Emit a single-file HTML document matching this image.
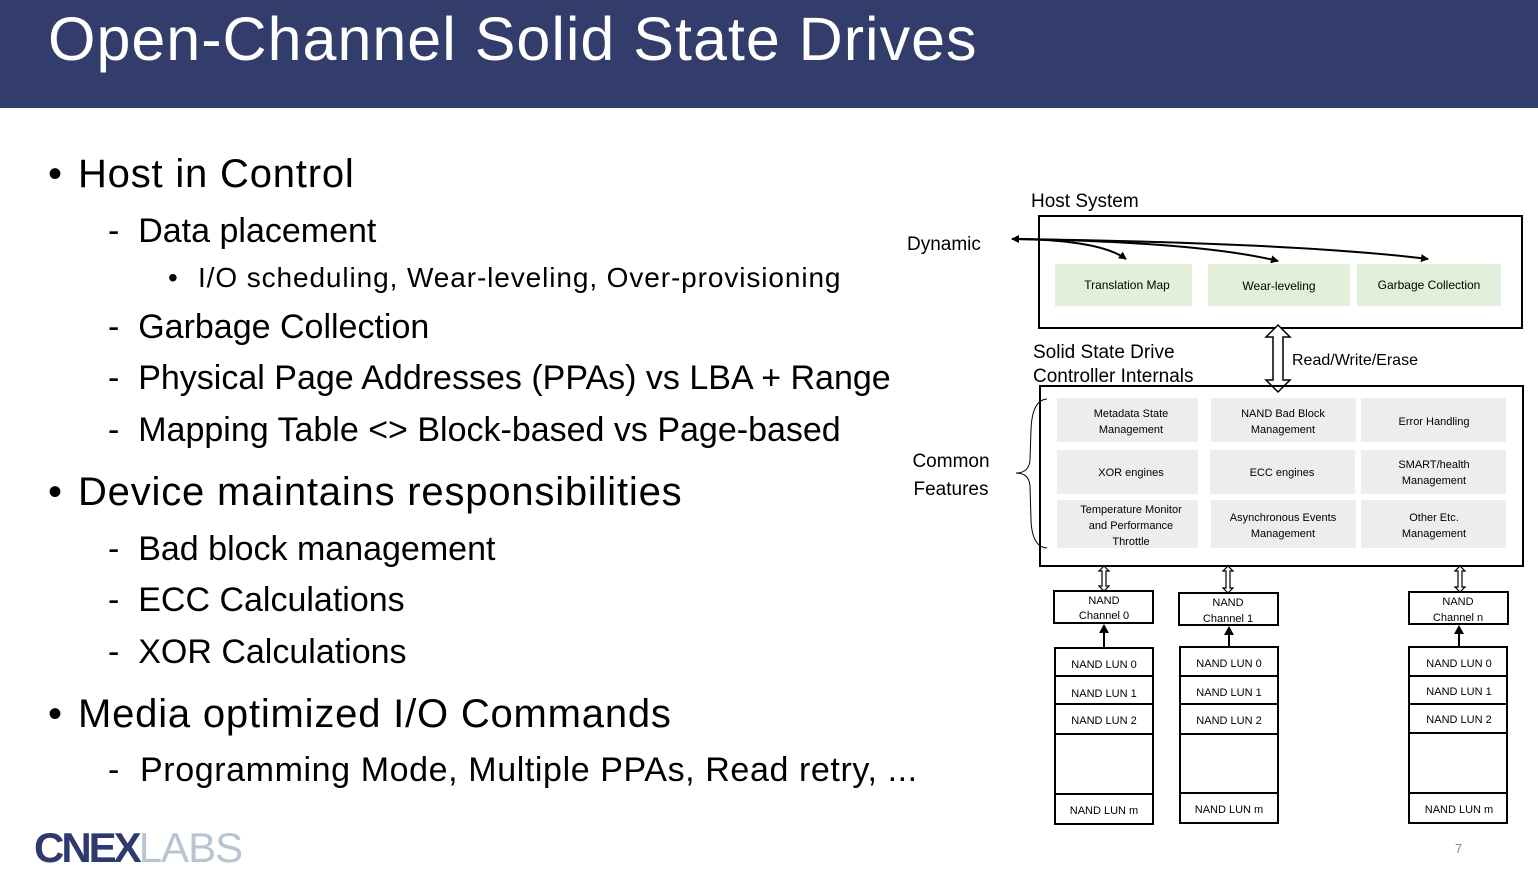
<!DOCTYPE html>
<html><head><meta charset="utf-8"><style>
body{margin:0;width:1538px;height:871px;position:relative;overflow:hidden;background:#fff;font-family:"Liberation Sans",sans-serif}
.hdr{position:absolute;left:0;top:0;width:1538px;height:108px;background:#323d6b}
.t{position:absolute;white-space:nowrap;color:#000}
.l1{font-size:40px;letter-spacing:0.8px}
.l2{font-size:34px}
.l3{font-size:28px;letter-spacing:0.9px}
</style></head><body>
<div class="hdr"></div>
<div class="t" style="left:48px;top:4px;font-size:61px;color:#fff;letter-spacing:1px">Open-Channel Solid State Drives</div>

<div class="t l1" style="left:48px;top:152px">•</div><div class="t l1" style="left:78px;top:152px">Host in Control</div>
<div class="t l2" style="left:108px;top:212px">-&nbsp;&nbsp;Data placement</div>
<div class="t l3" style="left:168px;top:262px">•</div><div class="t l3" style="left:198px;top:262px">I/O scheduling, Wear-leveling, Over-provisioning</div>
<div class="t l2" style="left:108px;top:308px">-&nbsp;&nbsp;Garbage Collection</div>
<div class="t l2" style="left:108px;top:359px">-&nbsp;&nbsp;Physical Page Addresses (PPAs) vs LBA + Range</div>
<div class="t l2" style="left:108px;top:411px">-&nbsp;&nbsp;Mapping Table &lt;&gt; Block-based vs Page-based</div>
<div class="t l1" style="left:48px;top:470px">•</div><div class="t l1" style="left:78px;top:470px">Device maintains responsibilities</div>
<div class="t l2" style="left:108px;top:530px">-&nbsp;&nbsp;Bad block management</div>
<div class="t l2" style="left:108px;top:581px">-&nbsp;&nbsp;ECC Calculations</div>
<div class="t l2" style="left:108px;top:633px">-&nbsp;&nbsp;XOR Calculations</div>
<div class="t l1" style="left:48px;top:692px">•</div><div class="t l1" style="left:78px;top:692px">Media optimized I/O Commands</div>
<div class="t l2" style="left:108px;top:751px;letter-spacing:0.6px">-&nbsp;&nbsp;Programming Mode, Multiple PPAs, Read retry, ...</div>

<div class="t" style="left:34px;top:824px;font-size:42px;font-weight:bold;color:#2e3a6e;letter-spacing:-3px">CNEX<span style="font-weight:normal;color:#b8c4d2;letter-spacing:-1px">LABS</span></div>
<div class="t" style="left:1455px;top:841px;font-size:13px;color:#888">7</div>

<svg width="1538" height="871" style="position:absolute;left:0;top:0" font-family="Liberation Sans, sans-serif">
<defs><marker id="a" markerWidth="8" markerHeight="8" refX="7" refY="4" orient="auto" markerUnits="userSpaceOnUse"><path d="M0,0 L8,4 L0,8z" fill="#000"/></marker></defs>
<text x="1031" y="207" font-size="19">Host System</text>
<text x="907" y="250" font-size="19">Dynamic</text>
<rect x="1039" y="216" width="483" height="112" fill="none" stroke="#000" stroke-width="2"/>
<rect x="1055" y="264" width="137" height="42" fill="#e2efda"/>
<rect x="1208" y="264" width="142" height="42" fill="#e2efda"/>
<rect x="1357" y="264" width="144" height="42" fill="#e2efda"/>
<text x="1127" y="289" font-size="12" text-anchor="middle">Translation Map</text>
<text x="1279" y="290" font-size="12" text-anchor="middle">Wear-leveling</text>
<text x="1429" y="289" font-size="12" text-anchor="middle">Garbage Collection</text>
<path d="M1020,239 L1012,239" stroke="#000" stroke-width="2" marker-end="url(#a)"/>
<path d="M1015,239 Q1100,240 1126,259" fill="none" stroke="#000" stroke-width="2" marker-end="url(#a)"/>
<path d="M1015,239 Q1200,242 1278,261" fill="none" stroke="#000" stroke-width="2" marker-end="url(#a)"/>
<path d="M1015,239 Q1300,243 1428,259" fill="none" stroke="#000" stroke-width="2" marker-end="url(#a)"/>
<path d="M1278,325 L1290,337 L1283,337 L1283,380 L1290,380 L1278,392 L1266,380 L1273,380 L1273,337 L1266,337Z" fill="#fff" stroke="#000" stroke-width="1.5"/>
<text x="1292" y="365" font-size="16">Read/Write/Erase</text>
<text x="1033" y="358" font-size="19">Solid State Drive</text>
<text x="1033" y="382" font-size="19">Controller Internals</text>
<text x="951" y="467" font-size="19" text-anchor="middle">Common</text>
<text x="951" y="495" font-size="19" text-anchor="middle">Features</text>
<path d="M1047,399 Q1032,400 1031,430 L1030,460 Q1029,473 1016,473 Q1029,473 1030,486 L1031,520 Q1032,547 1047,548" fill="none" stroke="#000" stroke-width="1"/>
<rect x="1040" y="386" width="483" height="180" fill="none" stroke="#000" stroke-width="2"/>
<g fill="#ededed">
<rect x="1057" y="398" width="141" height="44"/><rect x="1211" y="398" width="145" height="44"/><rect x="1361" y="398" width="145" height="44"/>
<rect x="1057" y="450" width="141" height="44"/><rect x="1210" y="450" width="145" height="44"/><rect x="1361" y="450" width="145" height="44"/>
<rect x="1057" y="500" width="141" height="48"/><rect x="1211" y="500" width="145" height="48"/><rect x="1361" y="500" width="145" height="48"/>
</g>
<g font-size="11" text-anchor="middle">
<text x="1131" y="417">Metadata State</text><text x="1131" y="433">Management</text>
<text x="1283" y="417">NAND Bad Block</text><text x="1283" y="433">Management</text>
<text x="1434" y="425">Error Handling</text>
<text x="1131" y="476">XOR engines</text>
<text x="1282" y="476">ECC engines</text>
<text x="1434" y="468">SMART/health</text><text x="1434" y="484">Management</text>
<text x="1131" y="513">Temperature Monitor</text><text x="1131" y="529">and Performance</text><text x="1131" y="545">Throttle</text>
<text x="1283" y="521">Asynchronous Events</text><text x="1283" y="537">Management</text>
<text x="1434" y="521">Other Etc.</text><text x="1434" y="537">Management</text>
</g>
<g fill="#fff" stroke="#000" stroke-width="1.2">
<path d="M1104,566 L1109,571 L1106,571 L1106,586 L1109,586 L1104,591 L1099,586 L1102,586 L1102,571 L1099,571Z"/>
<path d="M1228,566 L1233,571 L1230,571 L1230,588 L1233,588 L1228,593 L1223,588 L1226,588 L1226,571 L1223,571Z"/>
<path d="M1460,566 L1465,571 L1462,571 L1462,587 L1465,587 L1460,592 L1455,587 L1458,587 L1458,571 L1455,571Z"/>
</g>
<g fill="none" stroke="#000" stroke-width="2">
<rect x="1054" y="591" width="99" height="32"/><rect x="1179" y="593" width="99" height="32"/><rect x="1409" y="592" width="99" height="32"/>
<rect x="1055" y="648" width="98" height="176"/><path d="M1055,676H1153M1055,704H1153M1055,734H1153M1055,794H1153"/>
<rect x="1180" y="647" width="98" height="176"/><path d="M1180,676H1278M1180,704H1278M1180,734H1278M1180,793H1278"/>
<rect x="1409" y="647" width="98" height="176"/><path d="M1409,676H1507M1409,704H1507M1409,733H1507M1409,793H1507"/>
<path d="M1104,648V630M1229,647V632M1459,647V631"/>
</g>
<g fill="#000"><path d="M1104,624L1099,633L1109,633Z"/><path d="M1229,626L1224,635L1234,635Z"/><path d="M1459,625L1454,634L1464,634Z"/></g>
<g font-size="11" text-anchor="middle">
<text x="1104" y="604">NAND</text><text x="1104" y="619">Channel 0</text>
<text x="1228" y="606">NAND</text><text x="1228" y="622">Channel 1</text>
<text x="1458" y="605">NAND</text><text x="1458" y="621">Channel n</text>
<text x="1104" y="668">NAND LUN 0</text><text x="1104" y="697">NAND LUN 1</text><text x="1104" y="724">NAND LUN 2</text><text x="1104" y="814">NAND LUN m</text>
<text x="1229" y="667">NAND LUN 0</text><text x="1229" y="696">NAND LUN 1</text><text x="1229" y="724">NAND LUN 2</text><text x="1229" y="813">NAND LUN m</text>
<text x="1459" y="667">NAND LUN 0</text><text x="1459" y="695">NAND LUN 1</text><text x="1459" y="723">NAND LUN 2</text><text x="1459" y="813">NAND LUN m</text>
</g>
</svg>
</body></html>
